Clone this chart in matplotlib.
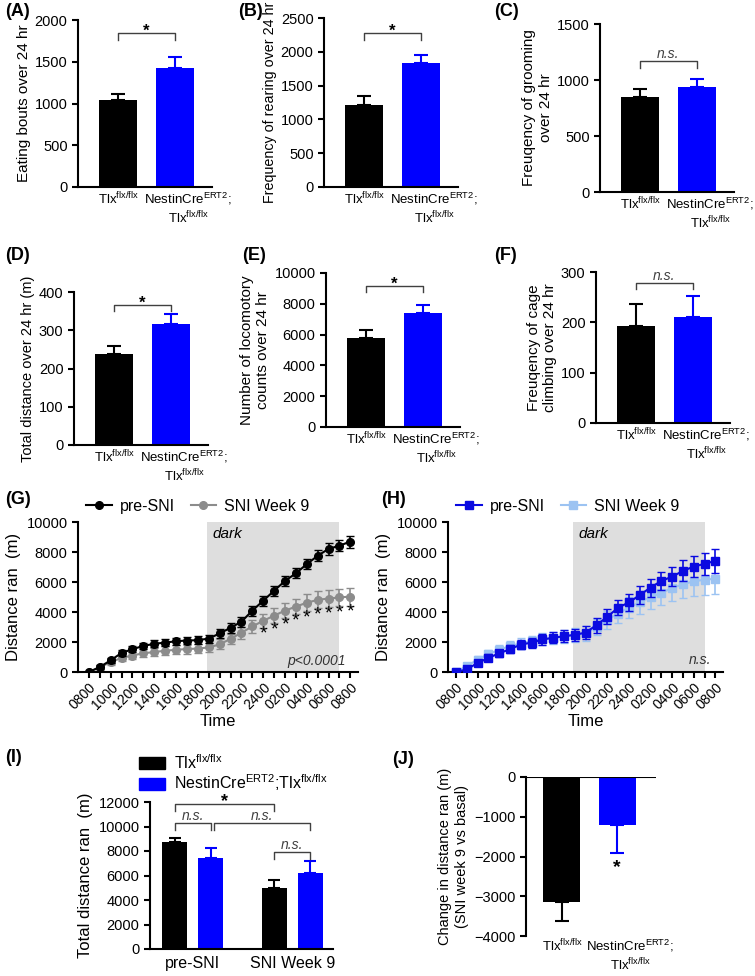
import numpy as np
import matplotlib
matplotlib.use("Agg")
import matplotlib.pyplot as plt
import matplotlib.transforms as mtransforms
from matplotlib.patches import Patch
from matplotlib.lines import Line2D

plt.rcParams['font.family'] = ['Liberation Sans', 'DejaVu Sans']
plt.rcParams['mathtext.fontset'] = 'custom'
plt.rcParams['mathtext.rm'] = 'Liberation Sans'
plt.rcParams['mathtext.it'] = 'Liberation Sans:italic'
plt.rcParams['mathtext.default'] = 'regular'
plt.rcParams['axes.linewidth'] = 1.5
plt.rcParams['xtick.major.width'] = 1.5
plt.rcParams['ytick.major.width'] = 1.5

BLACK = '#000000'
BLUE = '#0000ff'
GREY = '#8c8c8c'
DBLUE = '#0a0ae0'
LBLUE = '#9cc3f2'

# ---- data: bar panels A-F ----
groups = ['Tlx$^{flx/flx}$', 'NestinCre$^{ERT2}$;\nTlx$^{flx/flx}$']
eating = [1040, 1430]
eating_err = [70, 130]
rearing = [1210, 1840]
rearing_err = [130, 120]
grooming = [850, 940]
grooming_err = [70, 70]
distance = [237, 317]
distance_err = [21, 25]
locomotory = [5800, 7400]
locomotory_err = [500, 550]
climbing = [193, 210]
climbing_err = [44, 43]

# ---- data: time courses G/H ----
hours = ['0800', '1000', '1200', '1400', '1600', '1800', '2000',
         '2200', '2400', '0200', '0400', '0600', '0800']
g_pre = [0, 330, 780, 1270, 1520, 1740, 1880, 1960, 2050, 2100, 2120, 2230, 2570,
         2950, 3350, 4090, 4750, 5420, 6070, 6580, 7190, 7750, 8210, 8420, 8700]
g_pre_err = [0, 120, 150, 180, 200, 220, 230, 240, 250, 250, 260, 270, 300,
             320, 330, 330, 320, 320, 320, 330, 340, 370, 380, 380, 400]
g_sni = [0, 310, 660, 940, 1100, 1250, 1330, 1420, 1480, 1530, 1560, 1640, 1840,
         2210, 2620, 3040, 3410, 3760, 4090, 4360, 4620, 4810, 4900, 4970, 5030]
g_sni_err = [0, 150, 200, 220, 250, 270, 280, 290, 300, 300, 310, 320, 330,
             350, 400, 420, 450, 480, 500, 520, 550, 570, 580, 580, 600]
h_pre = [0, 180, 600, 940, 1250, 1520, 1830, 1960, 2170, 2280, 2390, 2480, 2630,
         3130, 3680, 4290, 4640, 5130, 5630, 6070, 6360, 6740, 7030, 7210, 7410]
h_pre_err = [0, 150, 200, 230, 250, 280, 300, 330, 350, 370, 400, 420, 450,
             500, 500, 520, 550, 580, 600, 630, 650, 700, 700, 730, 800]
h_sni = [0, 400, 820, 1190, 1480, 1730, 1900, 2040, 2180, 2280, 2370, 2450, 2600,
         3000, 3500, 3900, 4300, 4650, 5000, 5280, 5600, 5850, 6050, 6150, 6220]
h_sni_err = [0, 200, 250, 280, 300, 330, 350, 380, 400, 420, 450, 480, 500,
             550, 600, 650, 700, 750, 800, 830, 850, 900, 950, 1000, 1000]
sig_hours = [16, 17, 18, 19, 20, 21, 22, 23, 24]

# ---- data: I and J ----
conditions = ['pre-SNI', 'SNI Week 9']
total_tlx = [8700, 5000]
total_tlx_err = [400, 600]
total_cre = [7450, 6200]
total_cre_err = [800, 950]
change = [-3150, -1220]
change_err = [470, 700]

W, H = 755, 976
fig = plt.figure(figsize=(W / 100, H / 100), dpi=100)


def axes_px(left, top, right, bottom):
    return fig.add_axes([left / W, 1 - bottom / H, (right - left) / W, (bottom - top) / H])


def style(ax):
    ax.spines['top'].set_visible(False)
    ax.spines['right'].set_visible(False)
    ax.tick_params(labelsize=10.5, length=4)


def group_labels(ax, pad=3):
    ax.set_xticks([0, 1])
    ax.set_xticklabels(groups, fontsize=9.5)
    ax.tick_params(axis='x', length=0, pad=pad)
    labs = ax.get_xticklabels()
    for lb in labs:
        lb.set_linespacing(1.2)
    # second label sits a little to the right of its bar, as in the original
    shift = mtransforms.ScaledTranslation(0.13, 0, fig.dpi_scale_trans)
    labs[1].set_transform(labs[1].get_transform() + shift)


def bracket(ax, x0, x1, y, tip, text, italic=False, fs=12):
    ax.plot([x0, x0, x1, x1], [y - tip, y, y, y - tip], color='#404040', lw=1, clip_on=False)
    if italic:
        ax.text((x0 + x1) / 2, y, text, ha='center', va='bottom', fontsize=10,
                style='italic', color='#404040')
    else:
        ax.text((x0 + x1) / 2, y - tip * 0.9, text, ha='center', va='bottom', fontsize=fs,
                fontweight='bold')


def bar_panel(left, top, bottom, means, errs, ymax, ystep, ylabel, sig, by, yfs=11):
    ax = axes_px(left, top, left + 134, bottom)
    style(ax)
    x = [0, 1]
    cols = [BLACK, BLUE]
    ax.bar(x, means, width=0.67, color=cols, zorder=2)
    for xi, m, e, c in zip(x, means, errs, cols):
        ax.errorbar(xi, m, yerr=[[0], [e]], color=c, capsize=5, lw=1.5, capthick=1.5, zorder=1)
    ax.set_xlim(-0.7, 1.65)
    ax.set_ylim(0, ymax)
    ax.set_yticks(np.arange(0, ymax + 1, ystep))
    group_labels(ax)
    ax.set_ylabel(ylabel, fontsize=yfs, labelpad=3)
    bracket(ax, 0, 1, by, ymax * 0.04, sig, italic=(sig != '*'))
    return ax


bar_panel(78, 20, 187, eating, eating_err, 2000, 500, 'Eating bouts over 24 hr', '*', 1844)
bar_panel(324, 18, 187, rearing, rearing_err, 2500, 500, 'Frequency of rearing over 24 hr', '*', 2278, yfs=10.3)
bar_panel(600, 24, 192, grooming, grooming_err, 1500, 500, 'Freuqency of grooming\nover 24 hr', 'n.s.', 1170)
bar_panel(74, 292, 445, distance, distance_err, 400, 100, 'Total distance over 24 hr (m)', '*', 366, yfs=10.5)
bar_panel(326, 273, 427, locomotory, locomotory_err, 10000, 2000, 'Number of locomotory\ncounts over 24 hr', '*', 9156)
bar_panel(596, 272, 423, climbing, climbing_err, 300, 100, 'Freuqency of cage\nclimbing over 24 hr', 'n.s.', 278)


def time_panel(left, right, xl, pre, pre_err, sni, sni_err, c_pre, c_sni, marker, note):
    ax = axes_px(left, 522, right, 672)
    style(ax)
    t = np.arange(len(pre))
    ax.axvspan(10.8, 23.0, color='#dedede', zorder=0, lw=0)
    ax.errorbar(t, sni, yerr=sni_err, color=c_sni, marker=marker, ms=5.5, lw=1.5,
                capsize=3, elinewidth=1.2, zorder=2)
    ax.errorbar(t, pre, yerr=pre_err, color=c_pre, marker=marker, ms=5.5, lw=1.5,
                capsize=3, elinewidth=1.2, zorder=3)
    ax.set_xlim(xl, 24.7)
    ax.set_ylim(0, 10000)
    ax.set_yticks(np.arange(0, 10001, 2000))
    ax.set_xticks(t)
    ticklabels = ['' for _ in t]
    ticklabels[::2] = hours
    ax.set_xticklabels(ticklabels, rotation=45, ha='right', rotation_mode='anchor', fontsize=10)
    ax.tick_params(axis='x', length=4, pad=2)
    ax.set_ylabel('Distance ran  (m)', fontsize=12)
    ax.set_xlabel('Time', fontsize=12)
    ax.xaxis.set_label_coords(0.5, (672 - 714) / 150)
    ax.text(11.3, 9700, 'dark', style='italic', fontsize=11, va='top')
    ax.text(23.6, 300, note, style='italic', fontsize=10, ha='right', va='bottom', color='#333333')
    handles = [Line2D([], [], color=c_pre, marker=marker, ms=5.5, lw=1.5),
               Line2D([], [], color=c_sni, marker=marker, ms=5.5, lw=1.5)]
    ax.legend(handles, ['pre-SNI', 'SNI Week 9'], ncol=2, frameon=False, fontsize=11.5,
              loc='lower left', bbox_to_anchor=(0.0, 1.0), handlelength=1.6,
              columnspacing=1.0, handletextpad=0.5, borderaxespad=0.1)
    return ax


axG = time_panel(78, 358, -1.0, g_pre, g_pre_err, g_sni, g_sni_err, BLACK, GREY, 'o', 'p<0.0001')
for h in sig_hours:
    axG.text(h, g_sni[h] - g_sni_err[h] - 450, '*', ha='center', va='center', fontsize=14)
time_panel(448, 723, -0.74, h_pre, h_pre_err, h_sni, h_sni_err, DBLUE, LBLUE, 's', 'n.s.')

# ---- I ----
axI = axes_px(150, 802, 333, 949)
style(axI)
xc = np.arange(len(conditions))
off = 0.18
axI.bar(xc - off, total_tlx, width=0.25, color=BLACK, zorder=2)
axI.bar(xc + off, total_cre, width=0.25, color=BLUE, zorder=2)
for xi, m, e in zip(xc - off, total_tlx, total_tlx_err):
    axI.errorbar(xi, m, yerr=[[0], [e]], color=BLACK, capsize=4, lw=1.5, capthick=1.5)
for xi, m, e in zip(xc + off, total_cre, total_cre_err):
    axI.errorbar(xi, m, yerr=[[0], [e]], color=BLUE, capsize=4, lw=1.5, capthick=1.5)
axI.set_xlim(-0.43, 1.41)
axI.set_ylim(0, 12000)
axI.set_yticks(np.arange(0, 12001, 2000))
axI.set_xticks(xc)
axI.set_xticklabels(conditions, fontsize=11.5)
axI.tick_params(axis='x', length=0, pad=5)
axI.set_ylabel('Total distance ran  (m)', fontsize=12)
bracket(axI, -off, 1 - off, 11840, 600, '*', fs=13)
bracket(axI, -off, off, 10260, 570, 'n.s.', italic=True)
bracket(axI, off + 0.03, 1 + off, 10260, 570, 'n.s.', italic=True)
bracket(axI, 1 - off, 1 + off, 7920, 570, 'n.s.', italic=True)
leg_handles = [Patch(color=BLACK), Patch(color=BLUE)]
fig.legend(leg_handles, ['Tlx$^{flx/flx}$', 'NestinCre$^{ERT2}$;Tlx$^{flx/flx}$'],
           loc='upper left', bbox_to_anchor=(128 / W, 1 - 742 / H), frameon=False,
           fontsize=11.5, handlelength=1.6, handleheight=0.8, labelspacing=0.05,
           handletextpad=0.6, borderpad=0.2)

# ---- J ----
axJ = axes_px(526, 777, 656, 936)
style(axJ)
axJ.spines['bottom'].set_visible(False)
axJ.axhline(0, color=BLACK, lw=1.5, zorder=3)
xj = [0, 1]
axJ.bar(xj, change, width=0.67, color=[BLACK, BLUE], zorder=2)
for xi, m, e, c in zip(xj, change, change_err, [BLACK, BLUE]):
    axJ.errorbar(xi, m, yerr=[[e], [0]], color=c, capsize=5, lw=1.5, capthick=1.5)
axJ.set_xlim(-0.65, 1.7)
axJ.set_ylim(-4000, 0)
axJ.set_yticks(np.arange(-4000, 1, 1000))
group_labels(axJ, pad=1)
axJ.set_ylabel('Change in distance ran (m)\n(SNI week 9 vs basal)', fontsize=10.5)
axJ.text(1, change[1] - change_err[1] - 150, '*', ha='center', va='top', fontsize=14,
         fontweight='bold')

# ---- panel letters ----
letters = [('(A)', 5, 12), ('(B)', 238, 12), ('(C)', 494, 12),
           ('(D)', 5, 255), ('(E)', 242, 255), ('(F)', 494, 255),
           ('(G)', 5, 500), ('(H)', 381, 500), ('(I)', 5, 758), ('(J)', 392, 760)]
for s, x, y in letters:
    fig.text(x / W, 1 - y / H, s, fontsize=13, fontweight='bold', va='center', ha='left')

fig.savefig('out.png', dpi=100)
